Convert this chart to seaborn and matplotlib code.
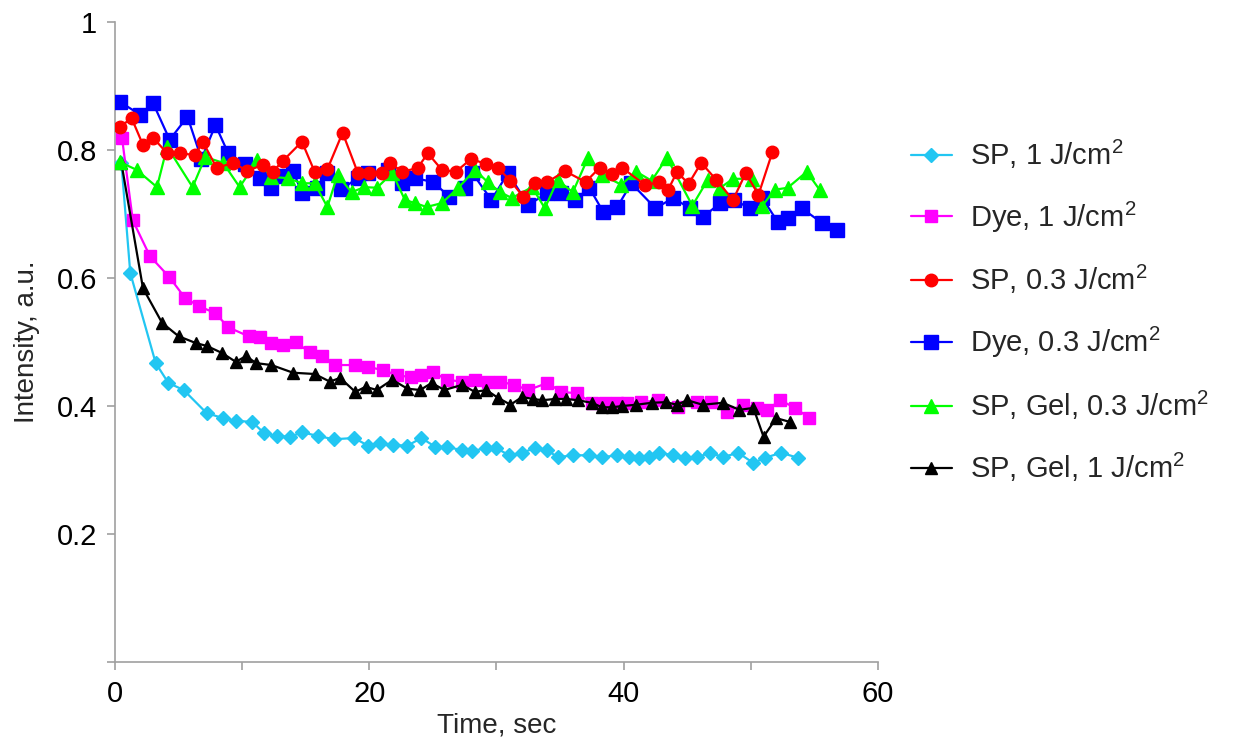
import numpy as np
import pandas as pd
import matplotlib
matplotlib.use("Agg")
import matplotlib.pyplot as plt
import seaborn as sns

sns.set_style("ticks")
plt.rcParams['font.family'] = ['Liberation Sans', 'DejaVu Sans']
plt.rcParams['mathtext.default'] = 'regular'

# ---------------- data ----------------
t_sp1 = [0.5, 1.2, 3.2, 4.2, 5.4, 7.2, 8.5, 9.5, 10.8, 11.7, 12.7, 13.8, 14.7, 16.0, 17.2, 18.8, 19.9,
         20.8, 21.9, 23.0, 24.1, 25.2, 26.1, 27.3, 28.1, 29.2, 30.0, 31.0, 32.0, 33.0, 34.0, 34.8, 36.0,
         37.3, 38.3, 39.5, 40.4, 41.2, 42.0, 42.8, 43.9, 44.8, 45.8, 46.8, 47.8, 49.0, 50.2, 51.1, 52.4, 53.7]
v_sp1 = [0.78, 0.608, 0.467, 0.436, 0.425, 0.389, 0.381, 0.377, 0.375, 0.358, 0.353, 0.352, 0.359, 0.353,
         0.348, 0.350, 0.338, 0.342, 0.339, 0.338, 0.350, 0.336, 0.336, 0.331, 0.330, 0.334, 0.334, 0.323,
         0.327, 0.334, 0.331, 0.320, 0.323, 0.323, 0.320, 0.323, 0.320, 0.319, 0.320, 0.327, 0.323, 0.319,
         0.320, 0.327, 0.320, 0.327, 0.311, 0.319, 0.327, 0.319]

t_dye1 = [0.55, 1.4, 2.75, 4.25, 5.5, 6.6, 7.9, 8.9, 10.5, 11.4, 12.3, 13.2, 14.2, 15.3, 16.3, 17.3, 18.9,
          19.9, 21.1, 22.2, 23.3, 24.1, 25.0, 26.1, 27.3, 28.3, 29.3, 30.3, 31.4, 32.5, 34.0, 35.1, 36.3,
          37.5, 38.5, 39.5, 40.3, 41.4, 42.7, 44.3, 45.8, 46.9, 48.1, 49.4, 50.5, 51.3, 52.3, 53.5, 54.6]
v_dye1 = [0.819, 0.690, 0.634, 0.602, 0.569, 0.556, 0.545, 0.523, 0.509, 0.508, 0.498, 0.495, 0.500, 0.484,
          0.478, 0.464, 0.464, 0.461, 0.456, 0.448, 0.445, 0.448, 0.453, 0.441, 0.438, 0.441, 0.438, 0.438,
          0.433, 0.425, 0.436, 0.422, 0.420, 0.405, 0.405, 0.405, 0.405, 0.406, 0.409, 0.398, 0.406, 0.406,
          0.391, 0.402, 0.397, 0.394, 0.409, 0.397, 0.381]

t_sp03 = [0.4, 1.3, 2.2, 3.0, 4.1, 5.1, 6.3, 6.9, 8.0, 9.3, 10.4, 11.6, 12.4, 13.2, 14.7, 15.7, 16.7, 17.9,
          19.1, 20.0, 21.0, 21.6, 22.6, 23.8, 24.6, 25.7, 26.8, 28.0, 29.2, 30.1, 31.1, 32.1, 33.0, 34.0,
          35.4, 37.0, 38.1, 39.1, 39.9, 41.7, 42.8, 43.5, 44.2, 45.1, 46.1, 47.3, 48.6, 49.6, 50.6, 51.7]
v_sp03 = [0.836, 0.850, 0.808, 0.819, 0.795, 0.795, 0.792, 0.813, 0.772, 0.780, 0.767, 0.777, 0.766, 0.783,
          0.813, 0.766, 0.770, 0.827, 0.764, 0.764, 0.764, 0.780, 0.766, 0.772, 0.795, 0.769, 0.766, 0.786,
          0.778, 0.772, 0.752, 0.727, 0.748, 0.750, 0.767, 0.750, 0.772, 0.763, 0.772, 0.745, 0.750, 0.738,
          0.766, 0.747, 0.780, 0.753, 0.722, 0.764, 0.730, 0.797]

t_dye03 = [0.4, 2.0, 3.0, 4.3, 5.7, 6.8, 7.9, 8.9, 10.2, 11.4, 12.3, 13.1, 14.0, 14.7, 15.9, 16.7, 17.8,
           19.1, 19.9, 21.5, 22.6, 23.6, 25.0, 26.3, 27.5, 28.1, 29.6, 30.9, 32.5, 34.0, 35.1, 36.2, 37.3,
           38.4, 39.5, 40.6, 42.5, 43.9, 45.2, 46.2, 47.6, 48.7, 49.9, 50.9, 52.1, 52.9, 54.0, 55.6, 56.8]
v_dye03 = [0.875, 0.855, 0.873, 0.816, 0.852, 0.786, 0.839, 0.795, 0.778, 0.756, 0.741, 0.759, 0.767, 0.733,
           0.741, 0.764, 0.739, 0.756, 0.764, 0.769, 0.748, 0.756, 0.750, 0.727, 0.741, 0.764, 0.722, 0.764,
           0.714, 0.733, 0.733, 0.722, 0.741, 0.703, 0.711, 0.748, 0.709, 0.725, 0.709, 0.695, 0.717, 0.722,
           0.709, 0.725, 0.688, 0.694, 0.709, 0.686, 0.675]

t_gel03 = [0.4, 1.7, 3.3, 4.1, 6.1, 7.1, 8.5, 9.8, 11.2, 12.3, 13.6, 14.7, 15.7, 16.7, 17.5, 18.6, 19.6,
           20.6, 21.8, 22.8, 23.6, 24.5, 25.7, 27.0, 28.3, 29.3, 30.3, 31.2, 32.8, 33.8, 34.8, 36.0, 37.2,
           38.3, 39.8, 41.0, 42.2, 43.4, 45.4, 46.6, 47.6, 48.6, 50.1, 50.9, 51.9, 52.9, 54.4, 55.4]
v_gel03 = [0.781, 0.769, 0.742, 0.805, 0.742, 0.789, 0.780, 0.742, 0.784, 0.758, 0.756, 0.748, 0.748, 0.711,
           0.761, 0.734, 0.742, 0.741, 0.764, 0.722, 0.717, 0.711, 0.717, 0.741, 0.769, 0.750, 0.734, 0.725,
           0.742, 0.709, 0.753, 0.734, 0.788, 0.761, 0.746, 0.766, 0.752, 0.788, 0.713, 0.753, 0.741, 0.755,
           0.755, 0.713, 0.738, 0.741, 0.766, 0.738]

t_gel1 = [0.5, 2.2, 3.7, 5.0, 6.4, 7.2, 8.4, 9.5, 10.3, 11.1, 12.3, 14.0, 15.7, 16.9, 17.7, 18.9, 19.7,
          20.6, 21.8, 23.0, 24.0, 24.9, 25.9, 27.3, 28.3, 29.2, 30.1, 31.1, 32.0, 32.9, 33.6, 34.6, 35.5,
          36.4, 37.5, 38.3, 39.1, 39.9, 41.0, 42.2, 43.3, 44.2, 45.0, 46.2, 47.8, 49.1, 50.2, 51.0, 52.0, 53.1]
v_gel1 = [0.78, 0.584, 0.530, 0.509, 0.498, 0.494, 0.483, 0.469, 0.478, 0.467, 0.464, 0.452, 0.450, 0.438,
          0.444, 0.422, 0.430, 0.425, 0.441, 0.427, 0.425, 0.436, 0.425, 0.433, 0.422, 0.425, 0.413, 0.402,
          0.414, 0.411, 0.409, 0.411, 0.411, 0.409, 0.405, 0.398, 0.398, 0.400, 0.402, 0.405, 0.406, 0.402,
          0.409, 0.402, 0.405, 0.394, 0.397, 0.352, 0.381, 0.375]

labels = ["SP, 1 J/cm$^2$", "Dye, 1 J/cm$^2$", "SP, 0.3 J/cm$^2$",
          "Dye, 0.3 J/cm$^2$", "SP, Gel, 0.3 J/cm$^2$", "SP, Gel, 1 J/cm$^2$"]
series_t = [t_sp1, t_dye1, t_sp03, t_dye03, t_gel03, t_gel1]
series_v = [v_sp1, v_dye1, v_sp03, v_dye03, v_gel03, v_gel1]

colors = ["#22C6F2", "#FF00FF", "#FF0000", "#0000FF", "#00FF00", "#000000"]
markers = ["D", "s", "o", "s", "^", "^"]
msizes = [7.5, 9, 9, 10, 10, 9]
zorders = [3, 3, 6, 4, 5, 4]

# ---------------- figure ----------------
fig = plt.figure(figsize=(12.42, 7.48), dpi=100)
ax = fig.add_axes([115 / 1242, 1 - 662 / 748, (878 - 115) / 1242, (662 - 22) / 748])

for t, v, lab, c, m, ms, z in zip(series_t, series_v, labels, colors, markers, msizes, zorders):
    df = pd.DataFrame({"Time": t, "Intensity": v})
    sns.lineplot(data=df, x="Time", y="Intensity", ax=ax, color=c, marker=m,
                 markersize=ms, markeredgecolor=c, markeredgewidth=1, linewidth=1.6,
                 label=lab, estimator=None, sort=False, zorder=z)

ax.set_xlim(0, 60)
ax.set_ylim(0, 1)
ax.set_xticks(np.arange(0, 61, 10))
ax.set_xticklabels(["0", "", "20", "", "40", "", "60"])
ax.set_yticks([0, 0.2, 0.4, 0.6, 0.8, 1.0])
ax.set_yticklabels(["", "0.2", "0.4", "0.6", "0.8", "1"])

for s in ["top", "right"]:
    ax.spines[s].set_visible(False)
for s in ["left", "bottom"]:
    ax.spines[s].set_color("#A0A0A0")
    ax.spines[s].set_linewidth(1.2)
ax.tick_params(axis="both", which="both", direction="out", length=6, width=1.2,
               color="#A0A0A0", labelsize=21, labelcolor="black", pad=7)

ax.set_xlabel("Time, sec", fontsize=20, labelpad=3)
ax.set_ylabel("Intensity, a.u.", fontsize=20, labelpad=12)

leg = ax.legend(loc="upper left", bbox_to_anchor=(899 / 1242, 1 - 126 / 748),
                bbox_transform=fig.transFigure, frameon=False, fontsize=21,
                labelspacing=0.98, handlelength=1.4, handletextpad=0.65, borderaxespad=0)

fig.savefig("out.png", dpi=100, facecolor="white")
